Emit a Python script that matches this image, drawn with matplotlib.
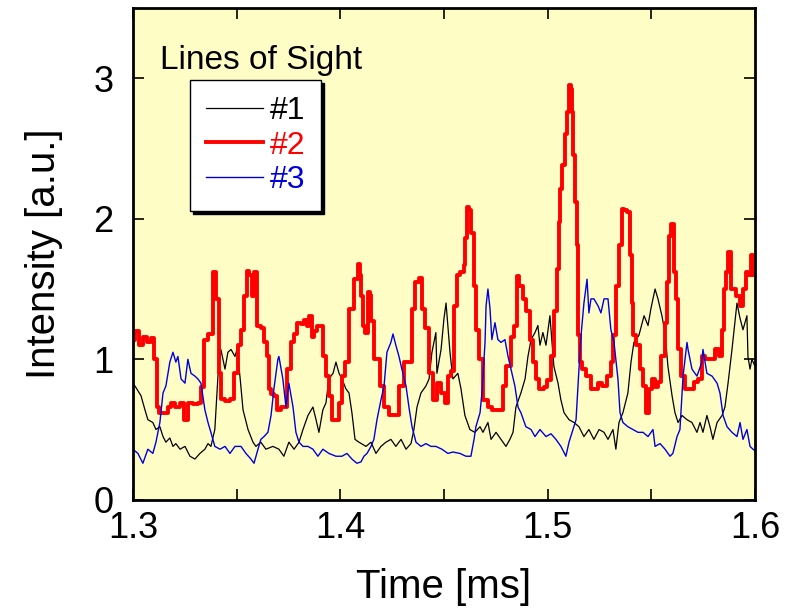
import matplotlib
matplotlib.use("Agg")
import matplotlib.pyplot as plt

plt.rcParams['font.family'] = ['Liberation Sans', 'DejaVu Sans']

# Line of sight #1 (black)
t1 = [1.3000, 1.3014, 1.3039, 1.3058, 1.3072, 1.3096, 1.3111, 1.3130, 1.3145, 1.3159,
      1.3178, 1.3193, 1.3207, 1.3227, 1.3251, 1.3275, 1.3299, 1.3323, 1.3347, 1.3362,
      1.3376, 1.3395, 1.3410, 1.3424, 1.3444, 1.3458, 1.3473, 1.3492, 1.3502, 1.3516,
      1.3531, 1.3555, 1.3579, 1.3593, 1.3617, 1.3641, 1.3675, 1.3704, 1.3728, 1.3752,
      1.3777, 1.3801, 1.3820, 1.3844, 1.3868, 1.3883, 1.3897, 1.3916, 1.3931, 1.3945,
      1.3965, 1.3979, 1.3994, 1.4008, 1.4027, 1.4042, 1.4056, 1.4071, 1.4090, 1.4124,
      1.4148, 1.4172, 1.4196, 1.4220, 1.4244, 1.4268, 1.4293, 1.4317, 1.4341, 1.4355,
      1.4370, 1.4389, 1.4413, 1.4428, 1.4442, 1.4461, 1.4466, 1.4486, 1.4500, 1.4510,
      1.4529, 1.4543, 1.4567, 1.4582, 1.4601, 1.4625, 1.4649, 1.4674, 1.4688, 1.4712,
      1.4727, 1.4751, 1.4775, 1.4799, 1.4818, 1.4833, 1.4847, 1.4871, 1.4891, 1.4905,
      1.4920, 1.4939, 1.4953, 1.4963, 1.4977, 1.4992, 1.5011, 1.5030, 1.5050, 1.5064,
      1.5079, 1.5103, 1.5127, 1.5151, 1.5175, 1.5199, 1.5223, 1.5248, 1.5272, 1.5291,
      1.5315, 1.5329, 1.5344, 1.5363, 1.5387, 1.5402, 1.5416, 1.5440, 1.5465, 1.5484,
      1.5498, 1.5518, 1.5532, 1.5551, 1.5566, 1.5580, 1.5600, 1.5614, 1.5629, 1.5648,
      1.5672, 1.5696, 1.5720, 1.5735, 1.5749, 1.5768, 1.5783, 1.5797, 1.5817, 1.5841,
      1.5855, 1.5870, 1.5889, 1.5903, 1.5913, 1.5928, 1.5942, 1.5961, 1.5966, 1.5976,
      1.5985, 1.6000]
los1 = [0.83, 0.80, 0.74, 0.64, 0.57, 0.55, 0.50, 0.52, 0.45, 0.41,
        0.44, 0.38, 0.40, 0.36, 0.38, 0.31, 0.29, 0.33, 0.36, 0.40,
        0.38, 0.50, 0.88, 1.07, 0.93, 1.05, 1.07, 1.02, 1.07, 0.88,
        0.64, 0.50, 0.41, 0.38, 0.41, 0.36, 0.38, 0.36, 0.31, 0.41,
        0.36, 0.41, 0.50, 0.60, 0.66, 0.57, 0.48, 0.64, 0.69, 0.86,
        0.90, 0.98, 0.90, 0.86, 0.79, 0.76, 0.62, 0.43, 0.41, 0.38,
        0.41, 0.33, 0.38, 0.41, 0.43, 0.38, 0.43, 0.36, 0.40, 0.50,
        0.66, 0.76, 0.81, 0.86, 1.05, 1.19, 0.90, 1.07, 1.29, 1.40,
        1.05, 0.86, 0.90, 0.79, 0.60, 0.50, 0.48, 0.52, 0.48, 0.55,
        0.43, 0.48, 0.43, 0.38, 0.43, 0.48, 0.66, 0.76, 0.86, 1.02,
        1.14, 1.19, 1.24, 1.10, 1.19, 1.10, 1.31, 0.95, 0.83, 0.71,
        0.62, 0.57, 0.55, 0.52, 0.45, 0.50, 0.43, 0.50, 0.48, 0.43,
        0.50, 0.36, 0.55, 0.62, 0.76, 0.98, 1.12, 1.17, 1.31, 1.24,
        1.36, 1.50, 1.43, 1.31, 1.19, 0.95, 0.74, 0.62, 0.55, 0.60,
        0.57, 0.55, 0.48, 0.55, 0.48, 0.60, 0.52, 0.43, 0.55, 0.60,
        0.66, 0.83, 1.07, 1.26, 1.40, 1.29, 1.21, 1.31, 1.02, 0.93,
        1.00, 0.95]

# Line of sight #2 (red)
t2 = [1.3000, 1.3019, 1.3039, 1.3058, 1.3077, 1.3096, 1.3111, 1.3121, 1.3135, 1.3159,
      1.3178, 1.3193, 1.3217, 1.3241, 1.3256, 1.3275, 1.3304, 1.3323, 1.3338, 1.3352,
      1.3376, 1.3395, 1.3410, 1.3420, 1.3434, 1.3458, 1.3482, 1.3497, 1.3516, 1.3531,
      1.3545, 1.3555, 1.3569, 1.3579, 1.3593, 1.3608, 1.3627, 1.3641, 1.3651, 1.3661,
      1.3675, 1.3690, 1.3704, 1.3723, 1.3738, 1.3752, 1.3772, 1.3786, 1.3801, 1.3820,
      1.3834, 1.3844, 1.3858, 1.3868, 1.3883, 1.3897, 1.3916, 1.3921, 1.3940, 1.3955,
      1.3965, 1.3989, 1.4003, 1.4013, 1.4032, 1.4056, 1.4076, 1.4090, 1.4100, 1.4104,
      1.4114, 1.4129, 1.4138, 1.4148, 1.4153, 1.4172, 1.4186, 1.4201, 1.4225, 1.4249,
      1.4273, 1.4297, 1.4321, 1.4341, 1.4355, 1.4370, 1.4389, 1.4403, 1.4418, 1.4437,
      1.4461, 1.4476, 1.4500, 1.4514, 1.4529, 1.4543, 1.4558, 1.4567, 1.4592, 1.4601,
      1.4606, 1.4616, 1.4625, 1.4640, 1.4649, 1.4664, 1.4678, 1.4698, 1.4722, 1.4746,
      1.4775, 1.4794, 1.4809, 1.4833, 1.4847, 1.4857, 1.4871, 1.4891, 1.4905, 1.4920,
      1.4939, 1.4953, 1.4968, 1.4992, 1.5006, 1.5026, 1.5040, 1.5050, 1.5055, 1.5064,
      1.5079, 1.5088, 1.5098, 1.5108, 1.5117, 1.5122, 1.5127, 1.5137, 1.5146, 1.5151,
      1.5161, 1.5175, 1.5199, 1.5219, 1.5233, 1.5248, 1.5272, 1.5296, 1.5315, 1.5320,
      1.5339, 1.5354, 1.5363, 1.5378, 1.5392, 1.5402, 1.5412, 1.5416, 1.5436, 1.5450,
      1.5465, 1.5484, 1.5498, 1.5513, 1.5518, 1.5542, 1.5556, 1.5575, 1.5580, 1.5590,
      1.5600, 1.5604, 1.5614, 1.5624, 1.5638, 1.5653, 1.5672, 1.5696, 1.5711, 1.5735,
      1.5749, 1.5768, 1.5793, 1.5817, 1.5831, 1.5846, 1.5855, 1.5865, 1.5879, 1.5889,
      1.5903, 1.5918, 1.5937, 1.5952, 1.5961, 1.5976, 1.5985, 1.6000]
los2 = [1.14, 1.20, 1.10, 1.16, 1.12, 1.15, 1.00, 0.66, 0.62, 0.62,
        0.66, 0.69, 0.66, 0.69, 0.57, 0.69, 0.68, 0.69, 0.80, 1.14,
        1.18, 1.62, 1.43, 0.90, 0.72, 0.70, 0.72, 0.90, 1.10, 1.21,
        1.45, 1.63, 1.60, 1.45, 1.62, 1.24, 1.22, 1.12, 1.02, 0.79,
        0.75, 0.74, 0.64, 0.66, 0.66, 0.93, 1.12, 1.18, 1.26, 1.25,
        1.28, 1.24, 1.31, 1.16, 1.20, 1.24, 1.24, 1.02, 0.88, 0.74,
        0.57, 0.57, 0.69, 0.88, 0.98, 1.36, 1.57, 1.68, 1.60, 1.45,
        1.24, 1.19, 1.48, 1.46, 1.27, 1.00, 1.00, 0.81, 0.66, 0.60,
        0.60, 0.81, 0.98, 0.98, 1.36, 1.55, 1.58, 1.36, 1.22, 0.90,
        0.71, 0.83, 0.76, 0.69, 0.88, 0.92, 1.38, 1.60, 1.62, 1.67,
        1.86, 2.08, 2.06, 1.90, 1.52, 1.21, 1.00, 0.71, 0.66, 0.64,
        0.64, 0.81, 0.95, 1.16, 1.24, 1.59, 1.52, 1.43, 1.34, 1.14,
        0.98, 0.86, 0.79, 0.80, 0.85, 1.02, 1.34, 1.64, 1.98, 2.21,
        2.38, 2.60, 2.76, 2.95, 2.92, 2.76, 2.45, 2.12, 1.81, 1.17,
        0.98, 0.93, 0.88, 0.79, 0.79, 0.83, 0.81, 0.88, 0.98, 1.17,
        1.52, 1.81, 2.07, 2.06, 2.05, 1.74, 1.40, 1.17, 1.10, 0.93,
        0.81, 0.62, 0.79, 0.86, 0.80, 0.84, 1.02, 1.26, 1.55, 1.88,
        1.96, 1.96, 1.62, 1.43, 1.07, 0.88, 0.79, 0.79, 0.84, 0.86,
        1.02, 1.00, 1.00, 1.07, 1.02, 1.21, 1.50, 1.62, 1.76, 1.50,
        1.50, 1.45, 1.38, 1.50, 1.62, 1.60, 1.74, 1.60]

# Line of sight #3 (blue)
t3 = [1.3000, 1.3024, 1.3048, 1.3072, 1.3096, 1.3111, 1.3130, 1.3145, 1.3159, 1.3178,
      1.3193, 1.3207, 1.3217, 1.3232, 1.3251, 1.3265, 1.3280, 1.3299, 1.3313, 1.3328,
      1.3347, 1.3362, 1.3376, 1.3395, 1.3420, 1.3444, 1.3468, 1.3492, 1.3521, 1.3545,
      1.3569, 1.3584, 1.3603, 1.3617, 1.3632, 1.3651, 1.3666, 1.3680, 1.3699, 1.3704,
      1.3723, 1.3738, 1.3752, 1.3772, 1.3786, 1.3801, 1.3820, 1.3844, 1.3868, 1.3892,
      1.3916, 1.3945, 1.3979, 1.4008, 1.4032, 1.4056, 1.4080, 1.4100, 1.4114, 1.4129,
      1.4148, 1.4162, 1.4177, 1.4196, 1.4211, 1.4225, 1.4244, 1.4254, 1.4268, 1.4283,
      1.4297, 1.4317, 1.4331, 1.4346, 1.4365, 1.4389, 1.4413, 1.4437, 1.4461, 1.4490,
      1.4519, 1.4543, 1.4577, 1.4606, 1.4630, 1.4645, 1.4654, 1.4674, 1.4683, 1.4698,
      1.4703, 1.4712, 1.4722, 1.4731, 1.4746, 1.4760, 1.4775, 1.4794, 1.4809, 1.4823,
      1.4842, 1.4857, 1.4871, 1.4895, 1.4920, 1.4939, 1.4963, 1.4992, 1.5016, 1.5040,
      1.5064, 1.5088, 1.5103, 1.5122, 1.5137, 1.5151, 1.5161, 1.5175, 1.5190, 1.5199,
      1.5209, 1.5223, 1.5243, 1.5257, 1.5272, 1.5291, 1.5305, 1.5320, 1.5339, 1.5349,
      1.5363, 1.5387, 1.5412, 1.5436, 1.5460, 1.5484, 1.5508, 1.5518, 1.5542, 1.5566,
      1.5590, 1.5604, 1.5624, 1.5638, 1.5653, 1.5672, 1.5677, 1.5696, 1.5720, 1.5744,
      1.5749, 1.5768, 1.5793, 1.5817, 1.5831, 1.5846, 1.5865, 1.5889, 1.5913, 1.5928,
      1.5942, 1.5961, 1.5976, 1.5990, 1.6000]
los3 = [0.36, 0.33, 0.26, 0.36, 0.33, 0.41, 0.55, 0.76, 0.81, 0.98,
        1.05, 0.98, 1.02, 0.86, 0.83, 1.00, 0.90, 0.88, 0.86, 0.83,
        0.64, 0.55, 0.48, 0.38, 0.36, 0.38, 0.33, 0.38, 0.38, 0.33,
        0.29, 0.26, 0.36, 0.43, 0.45, 0.48, 0.60, 0.79, 1.00, 1.02,
        0.86, 0.66, 0.83, 0.66, 0.48, 0.41, 0.38, 0.38, 0.36, 0.31,
        0.36, 0.33, 0.31, 0.31, 0.33, 0.29, 0.26, 0.27, 0.31, 0.33,
        0.38, 0.43, 0.57, 0.71, 0.81, 1.05, 1.12, 1.18, 1.10, 1.02,
        0.93, 0.81, 0.66, 0.52, 0.41, 0.38, 0.40, 0.38, 0.38, 0.36,
        0.33, 0.34, 0.33, 0.31, 0.31, 0.43, 0.52, 0.62, 0.76, 1.12,
        1.38, 1.50, 1.36, 1.14, 1.26, 1.14, 1.12, 1.14, 1.02, 0.93,
        0.81, 0.66, 0.62, 0.52, 0.50, 0.45, 0.50, 0.45, 0.47, 0.43,
        0.38, 0.31, 0.41, 0.50, 0.57, 0.93, 1.17, 1.40, 1.57, 1.33,
        1.43, 1.43, 1.38, 1.33, 1.43, 1.43, 1.21, 1.12, 0.86, 0.62,
        0.55, 0.52, 0.50, 0.48, 0.48, 0.45, 0.50, 0.38, 0.40, 0.36,
        0.31, 0.33, 0.45, 0.50, 0.88, 1.12, 1.07, 0.93, 0.88, 0.98,
        1.07, 0.90, 0.88, 0.83, 0.76, 0.60, 0.52, 0.48, 0.45, 0.55,
        0.43, 0.50, 0.38, 0.36, 0.35]

labels = ['#1', '#2', '#3']
colors = ['black', 'red', '#0000dd']
x_ticks = [1.3, 1.4, 1.5, 1.6]
y_ticks = [0, 1, 2, 3]

fig = plt.figure(figsize=(7.96, 6.11), dpi=100)
ax = fig.add_axes([0.167, 0.182, 0.7815, 0.805])
ax.set_facecolor('#fffdc6')

ax.plot(t1, los1, color=colors[0], linewidth=0.9, label=labels[0])
# thick red trace keeps the stepped, digitised look of the original
ax.plot(t2, los2, color=colors[1], linewidth=2.8, drawstyle='steps-mid', label=labels[1])
ax.plot(t3, los3, color=colors[2], linewidth=1.0, label=labels[2])

ax.set_xlim(1.3, 1.6)
ax.set_ylim(0, 3.5)
ax.set_xticks(x_ticks)
ax.set_xticklabels(['1.3', '1.4', '1.5', '1.6'])
ax.set_xticks([1.35, 1.45, 1.55], minor=True)
ax.set_yticks(y_ticks)
ax.tick_params(which='both', direction='in', top=True, right=True,
               length=8, width=1.2, labelsize=26, pad=8)
ax.tick_params(axis='y', pad=14)
for s in ax.spines.values():
    s.set_linewidth(2.0)

ax.set_xlabel('Time [ms]', fontsize=29, labelpad=16)
ax.set_ylabel('Intensity [a.u.]', fontsize=29, labelpad=22)

ax.text(0.043, 0.894, 'Lines of Sight', transform=ax.transAxes,
        fontsize=24, ha='left', va='center')
leg = ax.legend(loc='upper left', bbox_to_anchor=(0.0916, 0.854),
                fontsize=23, frameon=True, fancybox=False,
                shadow={'color': 'black', 'alpha': 1.0},
                edgecolor='black', framealpha=1.0, borderaxespad=0,
                handlelength=1.8, handletextpad=0.2, labelspacing=0.15,
                borderpad=0.5, labelcolor='linecolor')
leg.get_frame().set_linewidth(1.0)

fig.savefig('out.png', dpi=100)
